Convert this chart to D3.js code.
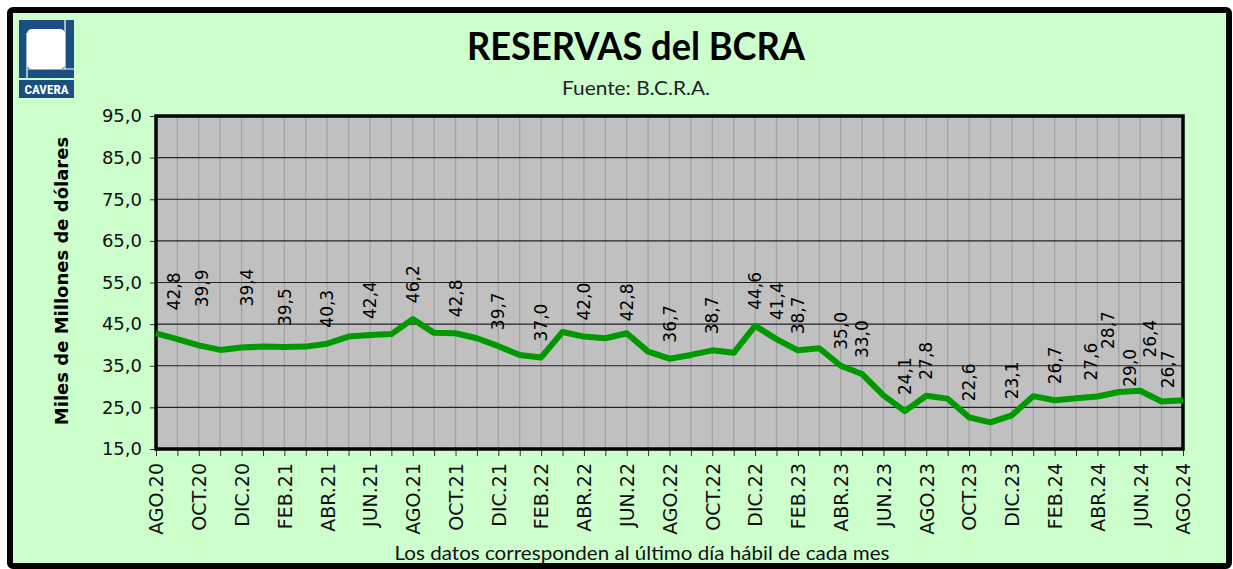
<!DOCTYPE html>
<html><head><meta charset="utf-8">
<script src="https://cdn.jsdelivr.net/npm/d3@7"></script>
<style>html,body{margin:0;padding:0;background:#fff}svg{display:block}</style>
</head><body>
<svg id="c" width="1233" height="569"></svg>
<script>
const months = ["AGO.20","SEP.20","OCT.20","NOV.20","DIC.20","ENE.21","FEB.21","MAR.21","ABR.21","MAY.21","JUN.21","JUL.21",
"AGO.21","SEP.21","OCT.21","NOV.21","DIC.21","ENE.22","FEB.22","MAR.22","ABR.22","MAY.22","JUN.22","JUL.22",
"AGO.22","SEP.22","OCT.22","NOV.22","DIC.22","ENE.23","FEB.23","MAR.23","ABR.23","MAY.23","JUN.23","JUL.23",
"AGO.23","SEP.23","OCT.23","NOV.23","DIC.23","ENE.24","FEB.24","MAR.24","ABR.24","MAY.24","JUN.24","JUL.24","AGO.24"];
const reserves = [42.8,41.4,39.9,38.8,39.4,39.6,39.5,39.6,40.3,42.0,42.4,42.6,
46.2,42.9,42.8,41.6,39.7,37.6,37.0,43.1,42.0,41.6,42.8,38.4,
36.7,37.6,38.7,38.1,44.6,41.4,38.7,39.2,35.0,33.0,27.9,24.1,
27.8,27.1,22.6,21.4,23.1,27.7,26.7,27.2,27.6,28.7,29.0,26.4,26.7];
const labeledMonths = ["AGO.20","OCT.20","DIC.20","FEB.21","ABR.21","JUN.21","AGO.21","OCT.21","DIC.21","FEB.22","ABR.22","JUN.22",
"AGO.22","OCT.22","DIC.22","ENE.23","FEB.23","ABR.23","MAY.23","JUL.23","AGO.23","OCT.23","DIC.23","FEB.24","ABR.24","MAY.24","JUN.24","JUL.24","AGO.24"];
const yTicks = [15,25,35,45,55,65,75,85,95];
const title = "RESERVAS del BCRA";
const subtitle = "Fuente: B.C.R.A.";
const yTitle = "Miles de Millones de dólares";
const note = "Los datos corresponden al último día hábil de cada mes";

// label nudges (style: px offsets), keyed by month
const nudge = {"AGO.20":[18,-7],"OCT.20":[3,-22],"DIC.20":[5,-25],"FEB.21":[0,-5],"JUN.22":[0,4],"ENE.23":[0,-3],
"ABR.24":[-7,0],"MAY.24":[-11,-27],"JUN.24":[-10,12],"JUL.24":[-12,-28],"AGO.24":[-15,4]};

const svg = d3.select("#c");
const font = "'DejaVu Sans', Verdana, sans-serif";
const L = 156, R = 1183, T = 116, B = 449;

// frame
svg.append("rect").attr("x",10).attr("y",10).attr("width",1219).attr("height",556).attr("rx",3)
  .attr("fill","#ccffcc").attr("stroke","#000").attr("stroke-width",6);

// logo
const lg = svg.append("g");
lg.append("rect").attr("x",19).attr("y",20).attr("width",55).attr("height",58).attr("fill","#1b4f7f");
lg.append("rect").attr("x",27).attr("y",29).attr("width",38).attr("height",40).attr("rx",5).attr("fill","#fff");
lg.append("line").attr("x1",65).attr("y1",20).attr("x2",65).attr("y2",69).attr("stroke","#fff").attr("stroke-width",1.2);
lg.append("line").attr("x1",28).attr("y1",69).attr("x2",74).attr("y2",69).attr("stroke","#fff").attr("stroke-width",1.2);
lg.append("line").attr("x1",27).attr("y1",33).attr("x2",27).attr("y2",78).attr("stroke","#fff").attr("stroke-width",1.2);
lg.append("rect").attr("x",19).attr("y",80).attr("width",55).attr("height",18).attr("fill","#1b4f7f");
lg.append("text").attr("x",46.5).attr("y",94).attr("text-anchor","middle").attr("fill","#fff")
  .attr("font-family","'Liberation Sans Narrow','Roboto Condensed',Roboto,sans-serif").attr("font-weight","bold")
  .attr("font-size",13).attr("textLength",44).attr("lengthAdjust","spacingAndGlyphs").text("CAVERA");

// titles
svg.append("text").attr("x",636).attr("y",60).attr("text-anchor","middle").attr("font-family","Lato, 'Open Sans', sans-serif")
  .attr("font-weight","bold").attr("font-size",39).attr("fill","#000").attr("textLength",338).attr("lengthAdjust","spacingAndGlyphs").text(title);
svg.append("text").attr("x",636).attr("y",95).attr("text-anchor","middle").attr("font-family","Lato, 'Open Sans', sans-serif")
  .attr("font-size",19).attr("fill","#222").attr("textLength",148).attr("lengthAdjust","spacingAndGlyphs").text(subtitle);
svg.append("text").attr("x",642).attr("y",560).attr("text-anchor","middle").attr("font-family","Lato, 'Open Sans', sans-serif")
  .attr("font-size",19).attr("fill","#111").attr("textLength",495).attr("lengthAdjust","spacingAndGlyphs").text(note);

// scales
const x = d3.scalePoint().domain(months).range([L, R]);
const y = d3.scaleLinear().domain([15, 95]).range([B, T]);

// plot background
svg.append("rect").attr("x",L).attr("y",T).attr("width",R-L).attr("height",B-T).attr("fill","#c0c0c0");

// vertical grid
svg.append("g").selectAll("line").data(months).join("line")
  .attr("x1",d=>x(d)).attr("x2",d=>x(d)).attr("y1",T).attr("y2",B)
  .attr("stroke","#a3a3a3").attr("stroke-width",1.3);
// horizontal grid
svg.append("g").selectAll("line").data(yTicks).join("line")
  .attr("x1",L).attr("x2",R).attr("y1",d=>y(d)).attr("y2",d=>y(d))
  .attr("stroke","#222").attr("stroke-width",1.2);

// axes
const yAxis = svg.append("g").attr("transform",`translate(${L},0)`)
  .call(d3.axisLeft(y).tickValues(yTicks).tickSize(6).tickPadding(8).tickFormat(d=>d3.format(".1f")(d).replace(".",",")));
yAxis.select(".domain").remove();
yAxis.selectAll("line").attr("stroke","#333");
yAxis.selectAll("text").attr("font-family",font).attr("font-size",18).attr("fill","#111");

const xAxis = svg.append("g").attr("transform",`translate(0,${B})`)
  .call(d3.axisBottom(x).tickSize(7).tickFormat((d,i)=> i%2===0 ? d : ""));
xAxis.select(".domain").remove();
xAxis.selectAll("line").attr("stroke","#333");
xAxis.selectAll("text").attr("font-family",font).attr("font-size",19).attr("fill","#111")
  .attr("text-anchor","end").attr("transform","translate(0,14) rotate(-90)").attr("x",0).attr("y",0).attr("dy","0.36em");

// plot border
svg.append("rect").attr("x",L).attr("y",T).attr("width",R-L).attr("height",B-T)
  .attr("fill","none").attr("stroke","#000").attr("stroke-width",3.5);

// line
const line = d3.line().x((d,i)=>x(months[i])).y(d=>y(d));
svg.append("path").datum(reserves).attr("d",line).attr("fill","none")
  .attr("stroke","#009900").attr("stroke-width",6).attr("stroke-linejoin","round");

// data labels
const lab = svg.append("g");
labeledMonths.forEach(m => {
  const i = months.indexOf(m), v = reserves[i];
  const n = nudge[m] || [0,0];
  lab.append("text").attr("transform",`translate(${x(m)+n[0]},${y(v)-16+n[1]}) rotate(-90)`)
    .attr("dy","0.36em").attr("text-anchor","start").attr("font-family",font).attr("font-size",17).attr("fill","#000")
    .text(d3.format(".1f")(v).replace(".",","));
});

// y title
svg.append("text").attr("transform","translate(62,281) rotate(-90)").attr("dy","0.36em").attr("text-anchor","middle")
  .attr("font-family",font).attr("font-weight","bold").attr("font-size",18).attr("fill","#000").text(yTitle);
</script>
</body></html>
